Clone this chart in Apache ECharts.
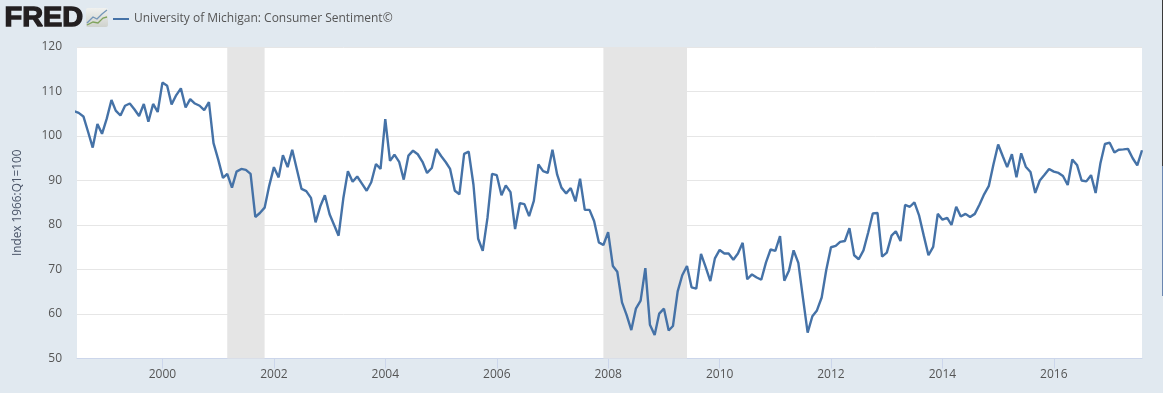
<!DOCTYPE html>
<html>
<head>
<meta charset="utf-8">
<style>html,body{margin:0;padding:0;background:#e1e9f0}#c{width:1163px;height:393px}</style>
<script src="https://cdn.jsdelivr.net/npm/echarts@6/dist/echarts.min.js"></script>
</head>
<body>
<div id="c"></div>
<script>
const seriesName = 'University of Michigan: Consumer Sentiment©';
const yAxisName = 'Index 1966:Q1=100';
const yearTicks = ['2000','2002','2004','2006','2008','2010','2012','2014','2016'];
const firstYear = 1998, firstMonth = 5;
const sentiment = [
105.6,105.2,104.4,100.9,97.4,102.7,100.5,
103.9,108.1,105.7,104.6,106.8,107.3,106.0,104.5,107.2,103.2,107.2,105.4,
112.0,111.3,107.1,109.2,110.7,106.4,108.3,107.3,106.8,105.8,107.6,98.4,
94.7,90.6,91.5,88.4,92.0,92.6,92.4,91.5,81.8,82.7,83.9,88.8,
93.0,90.7,95.7,93.0,96.9,92.4,88.1,87.6,86.1,80.6,84.2,86.7,
82.4,79.9,77.6,86.0,92.1,89.7,90.9,89.3,87.7,89.6,93.7,92.6,
103.8,94.4,95.8,94.2,90.2,95.6,96.7,95.9,94.2,91.7,92.8,97.1,
95.5,94.1,92.6,87.7,86.9,96.0,96.5,89.1,76.9,74.2,81.6,91.5,
91.2,86.7,88.9,87.4,79.1,84.9,84.7,82.0,85.4,93.6,92.1,91.7,
96.9,91.3,88.4,87.1,88.3,85.3,90.4,83.4,83.4,80.9,76.1,75.5,
78.4,70.8,69.5,62.6,59.8,56.4,61.2,63.0,70.3,57.6,55.3,60.1,
61.2,56.3,57.3,65.1,68.7,70.8,66.0,65.7,73.5,70.6,67.4,72.5,
74.4,73.6,73.6,72.2,73.6,76.0,67.8,68.9,68.2,67.7,71.6,74.5,
74.2,77.5,67.5,69.8,74.3,71.5,63.7,55.8,59.5,60.8,63.7,69.9,
75.0,75.3,76.2,76.4,79.3,73.2,72.3,74.3,78.3,82.6,82.7,72.9,
73.8,77.6,78.6,76.4,84.5,84.1,85.1,82.1,77.5,73.2,75.1,82.5,
81.2,81.6,80.0,84.1,81.9,82.5,81.8,82.5,84.6,86.9,88.8,93.6,
98.1,95.4,93.0,95.9,90.7,96.1,93.1,91.9,87.2,90.0,91.3,92.6,
92.0,91.7,91.0,89.0,94.7,93.5,90.0,89.8,91.2,87.2,93.8,98.2,
98.5,96.3,96.9,97.0,97.1,95.0,93.4,96.8
];
const recessions = [['2001-03-01','2001-11-01'],['2007-12-01','2009-06-01']];
const xMin = '1998-06-20', xMax = '2017-08-01';

const ts = s => new Date(s + 'T00:00:00Z').getTime();
const points = sentiment.map((v, i) => [Date.UTC(firstYear, firstMonth + i, 1), v]);
const tickValues = yearTicks.map(y => Date.UTC(+y, 0, 1));

const chart = echarts.init(document.getElementById('c'), null, {renderer: 'canvas'});
const FONT = '"Open Sans", sans-serif';
chart.setOption({
  animation: false,
  backgroundColor: '#e1e9f0',
  grid: {left: 77, right: 21, top: 47, bottom: 34.5, backgroundColor: '#ffffff', show: true, borderWidth: 0},
  legend: {
    show: true, left: 108, top: 8, icon: 'rect', itemWidth: 16, itemHeight: 2, itemGap: 0,
    textStyle: {fontFamily: FONT, fontSize: 12, color: '#555555'},
    data: [seriesName], selectedMode: false
  },
  xAxis: {
    type: 'value', min: ts(xMin), max: ts(xMax), scale: true,
    axisLine: {show: true, onZero: false, lineStyle: {color: '#ccd6eb', width: 1}},
    axisTick: {show: true, length: 10, customValues: tickValues, lineStyle: {color: '#ccd6eb', width: 1}},
    axisLabel: {show: true, customValues: tickValues, formatter: v => String(new Date(v).getUTCFullYear()),
      fontFamily: FONT, fontSize: 12, color: '#555555', margin: 10, hideOverlap: false},
    splitLine: {show: false}
  },
  yAxis: {
    type: 'value', min: 50, max: 120, interval: 10,
    name: yAxisName, nameLocation: 'middle', nameGap: 53, nameRotate: 90,
    nameTextStyle: {fontFamily: FONT, fontSize: 11.8, color: '#4a5568'},
    axisLine: {show: false}, axisTick: {show: false},
    axisLabel: {fontFamily: FONT, fontSize: 12, color: '#555555', margin: 15, padding: [4,0,0,0]},
    splitLine: {show: true, lineStyle: {color: '#e6e6e6', width: 1}}
  },
  series: [{
    name: seriesName, type: 'line', data: points, showSymbol: false, symbol: 'none', smooth: false,
    lineStyle: {color: '#4572a7', width: 2.4}, itemStyle: {color: '#4572a7'}, clip: true,
    markArea: {
      silent: true, itemStyle: {color: '#e5e5e5', opacity: 1},
      data: recessions.map(r => [{xAxis: ts(r[0])}, {xAxis: ts(r[1])}])
    }
  }],
  graphic: [
    {type: 'text', x: 4.5, y: 5, scaleX: 1.07, style: {text: 'FRED', fontFamily: '"Liberation Sans", Arial, sans-serif', fontWeight: 900, fontSize: 27, fill: '#231f20', stroke: '#231f20', lineWidth: 1.3}},
    {type: 'rect', shape: {x: 86, y: 8, width: 22, height: 19, r: 2}, style: {fill: new echarts.graphic.LinearGradient(0,0,0,1,[{offset:0,color:'#f0f1ef'},{offset:1,color:'#cfd2cd'}])}},
    {type: 'polyline', shape: {points: [[87,25],[93,22],[98,23],[103,18],[107,17]]}, style: {stroke: '#7fa35c', lineWidth: 1.3, fill: null}},
    {type: 'polyline', shape: {points: [[87,23],[93,17],[97,19],[102,14],[107,10]]}, style: {stroke: '#7496b8', lineWidth: 1.3, fill: null}},
    {type: 'rect', shape: {x: 1162, y: 0, width: 1, height: 166}, style: {fill: '#3a3a3a'}},
    {type: 'rect', shape: {x: 1162, y: 166, width: 1, height: 130}, style: {fill: '#6a86b0'}}
  ]
});
</script>
</body>
</html>
